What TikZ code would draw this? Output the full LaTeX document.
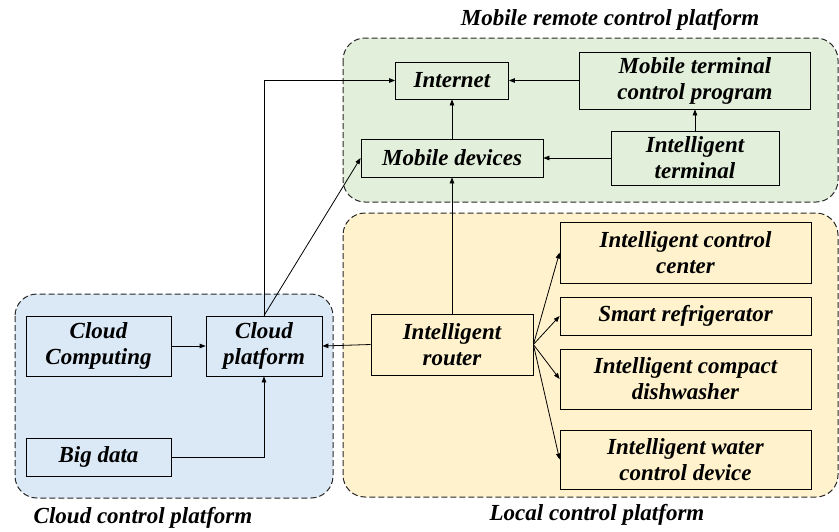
\documentclass[tikz,border=0pt]{standalone}
\usepackage{fontspec}
\setmainfont{Liberation Serif}
\usetikzlibrary{arrows.meta}
\definecolor{cloudbg}{RGB}{219,232,245}
\definecolor{mobilebg}{RGB}{226,239,218}
\definecolor{localbg}{RGB}{255,242,204}
\definecolor{regionline}{RGB}{40,40,40}

\begin{document}
\begin{tikzpicture}[x=1pt, y=-1pt, font=\fontsize{23}{26}\selectfont\bfseries\itshape,
	>={Triangle[length=6pt,width=4.5pt]}, line width=0.8pt]
	\tikzstyle{box} = [draw, align=center, inner sep=0pt]
	\tikzstyle{region} = [draw=regionline, line width=1pt, dash pattern=on 6pt off 3pt, rounded corners=22pt]
	\useasboundingbox (0,0) rectangle (839,531);
	% platforms
	\draw [region, fill=mobilebg] (343,38) rectangle (838,202);
	\draw [region, fill=localbg] (343,213) rectangle (838,497);
	\draw [region, fill=cloudbg] (15,294) rectangle (333,498);
	\node (MobileTitle) at (610,20) {Mobile remote control platform};
	\node (LocalTitle) at (597,515) {Local control platform};
	\node (CloudTitle) at (143,518) {Cloud control platform};
	% mobile remote control
	\node [box, minimum width=113pt, minimum height=37pt] (Internet) at (452,80.5) {Internet};
	\node [box, minimum width=231pt, minimum height=57pt] (Program) at (695,80.5) {Mobile terminal\\control program};
	\node [box, minimum width=182pt, minimum height=38pt] (Devices) at (452,158) {Mobile devices};
	\node [box, minimum width=168pt, minimum height=54pt] (Terminal) at (695,158) {Intelligent\\terminal};
	% local control
	\node [box, minimum width=162pt, minimum height=61pt] (Router) at (452,344.5) {Intelligent\\router};
	\node [box, minimum width=251pt, minimum height=61pt] (Center) at (685.5,252.5) {Intelligent control\\center};
	\node [box, minimum width=251pt, minimum height=38pt] (Fridge) at (685.5,316) {Smart refrigerator};
	\node [box, minimum width=251pt, minimum height=60pt] (Dishwasher) at (685.5,379) {Intelligent compact\\dishwasher};
	\node [box, minimum width=251pt, minimum height=59pt] (Water) at (685.5,459.5) {Intelligent water\\control device};
	% cloud control
	\node [box, minimum width=145pt, minimum height=60pt] (Computing) at (98.5,346) {Cloud\\Computing};
	\node [box, minimum width=116pt, minimum height=60pt] (Cloud) at (264,346) {Cloud\\platform};
	\node [box, minimum width=145pt, minimum height=38pt] (BigData) at (98.5,457) {Big data};
	% connections
	\draw [->] (Program.west) -- (Internet.east);
	\draw [->] (Terminal.north) -- (Program.south);
	\draw [->] (Terminal.west) -- (Devices.east);
	\draw [->] (Devices.north) -- (Internet.south);
	\draw [->] (Router.north) -- (Devices.south);
	\draw [->] (Router.west) -- (Cloud.east);
	\draw [->] (Router.east) -- (Center.west);
	\draw [->] (Router.east) -- (Fridge.west);
	\draw [->] (Router.east) -- (Dishwasher.west);
	\draw [->] (Router.east) -- (Water.west);
	\draw [->] (Computing.east) -- (Cloud.west);
	\draw [->] (BigData.east) -| (Cloud.south);
	\draw [->] (Cloud.north) |- (Internet.west);
	\draw [->] (Cloud.north) -- (Devices.west);
\end{tikzpicture}
\end{document}
